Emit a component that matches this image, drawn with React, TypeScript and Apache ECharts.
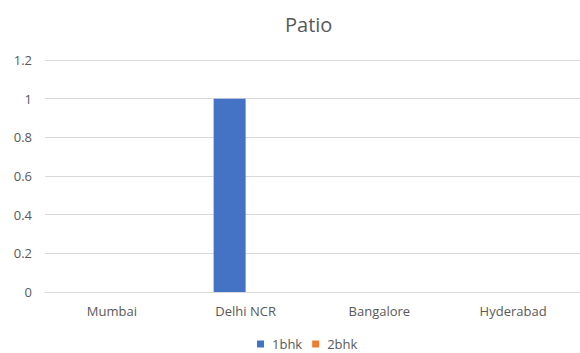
import React, { useEffect, useRef } from "react";
import * as echarts from "echarts";

const cities = ["Mumbai", "Delhi NCR", "Bangalore", "Hyderabad"];
const oneBhk = [0, 1, 0, 0];
const twoBhk = [0, 0, 0, 0];

export default function App() {
  const ref = useRef<HTMLDivElement>(null);

  useEffect(() => {
    document.body.style.margin = "0";
    const chart = echarts.init(ref.current!, null, { renderer: "svg" });
    const font = "'Open Sans', 'Noto Sans', sans-serif";
    const grey = "#595959";
    chart.setOption({
      animation: false,
      backgroundColor: "#ffffff",
      title: {
        text: "Patio",
        left: 280,
        top: 9,
        textStyle: { color: grey, fontSize: 20, fontWeight: "normal", fontFamily: font },
      },
      legend: {
        left: 257,
        top: 337,
        padding: 0,
        itemWidth: 7,
        itemHeight: 7,
        itemGap: 10,
        icon: "rect",
        textStyle: { color: grey, fontSize: 13, lineHeight: 14, fontFamily: font, padding: [0, 0, 0, 3] },
        data: ["1bhk", "2bhk"],
      },
      grid: { left: 45, top: 60, width: 547, bottom: 61 },
      xAxis: {
        type: "category",
        data: cities,
        axisLine: { lineStyle: { color: "#d9d9d9" } },
        axisTick: { show: false },
        axisLabel: { color: grey, fontSize: 13, margin: 12, fontFamily: font },
      },
      yAxis: {
        type: "value",
        min: 0,
        max: 1.2,
        interval: 0.2,
        axisLine: { show: false },
        axisTick: { show: false },
        splitLine: { lineStyle: { color: "#d9d9d9" } },
        axisLabel: {
          color: grey,
          fontSize: 13,
          margin: 13,
          fontFamily: font,
          formatter: (v: number) => String(Math.round(v * 10) / 10),
        },
      },
      series: [
        { name: "1bhk", type: "bar", data: oneBhk, barWidth: 32, barGap: "0%", itemStyle: { color: "#4472c4" } },
        { name: "2bhk", type: "bar", data: twoBhk, barWidth: 32, itemStyle: { color: "#ed7d31" } },
      ],
    });
    return () => chart.dispose();
  }, []);

  return <div ref={ref} style={{ width: 580, height: 353 }} />;
}
